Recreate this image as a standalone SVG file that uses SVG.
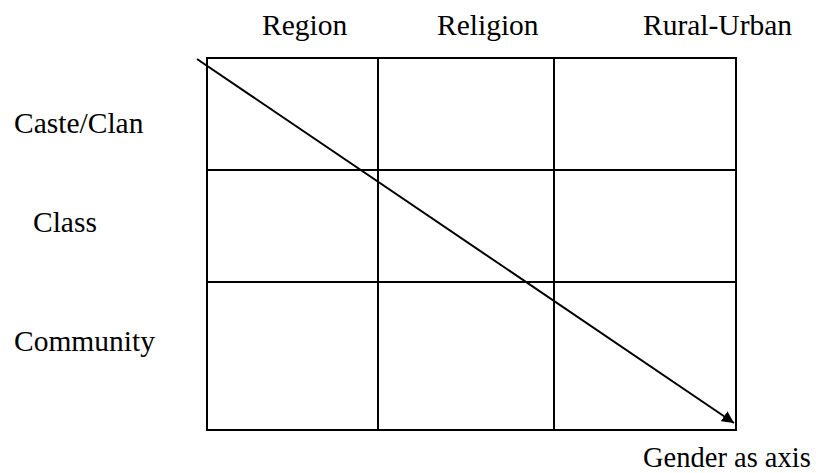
<svg xmlns="http://www.w3.org/2000/svg" width="816" height="473" viewBox="0 0 816 473">
<style>
text{font-family:"Liberation Serif","Times New Roman",serif;font-size:29.5px;fill:#000}
.g{stroke:#000;stroke-width:2;fill:none}
</style>
<defs>
<marker id="ah" viewBox="0 0 10 10" refX="10" refY="5" markerWidth="12" markerHeight="12" markerUnits="userSpaceOnUse" orient="auto">
<path d="M0,0 L10,5 L0,10 z" fill="#000"/>
</marker>
</defs>
<rect width="816" height="473" fill="#fff"/>
<g id="grid">
<rect class="g" x="207" y="58" width="529" height="372"/>
<line class="g" x1="378" y1="58" x2="378" y2="430"/>
<line class="g" x1="554" y1="58" x2="554" y2="430"/>
<line class="g" x1="207" y1="170" x2="736" y2="170"/>
<line class="g" x1="207" y1="282" x2="736" y2="282"/>
</g>
<g id="col-labels">
<text x="262" y="35">Region</text>
<text x="437" y="35">Religion</text>
<text x="643" y="35">Rural-Urban</text>
</g>
<g id="row-labels">
<text x="14" y="133">Caste/Clan</text>
<text x="33" y="232">Class</text>
<text x="14" y="351">Community</text>
</g>
<g id="connectors">
<line x1="197" y1="59" x2="734" y2="423" stroke="#000" stroke-width="2" marker-end="url(#ah)"/>
</g>
<g id="axis-label">
<text x="643" y="467" style="font-size:28.5px">Gender as axis</text>
</g>
</svg>
